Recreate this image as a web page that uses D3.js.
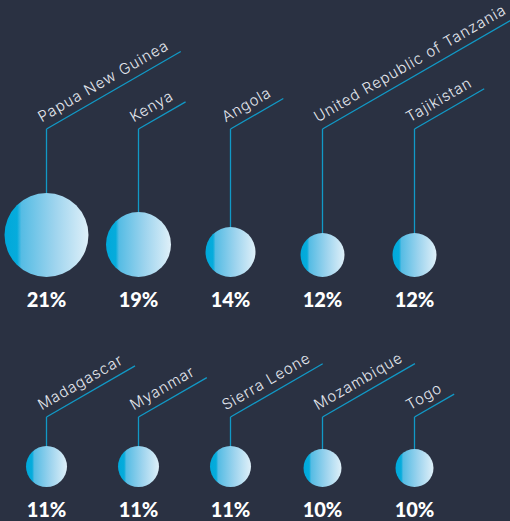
<!DOCTYPE html>
<html>
<head>
<meta charset="utf-8">
<script src="https://cdn.jsdelivr.net/npm/d3@7"></script>
<style>
  html, body { margin: 0; padding: 0; background: #2a3142; }
  svg { display: block; }
</style>
</head>
<body>
<script>
// Share of population by country
const countries = ["Papua New Guinea", "Kenya", "Angola", "United Republic of Tanzania", "Tajikistan",
                   "Madagascar", "Myanmar", "Sierra Leone", "Mozambique", "Togo"];
const shares = [21, 19, 14, 12, 12, 11, 11, 11, 10, 10];
const shareLabels = ["21%", "19%", "14%", "12%", "12%", "11%", "11%", "11%", "10%", "10%"];

const W = 510, H = 521;
const perRow = 5;

const svg = d3.select("body").append("svg")
  .attr("width", W).attr("height", H);

svg.append("rect").attr("width", W).attr("height", H).attr("fill", "#2a3142");

const defs = svg.append("defs");
const grad = defs.append("linearGradient")
  .attr("id", "bubble").attr("x1", "0%").attr("x2", "100%").attr("y1", "0%").attr("y2", "0%");
[[0, "#00a8da"], [0.15, "#06acdc"], [0.2, "#55bce4"], [0.6, "#9ed4ee"], [1, "#dff0f9"]]
  .forEach(([o, c]) => grad.append("stop").attr("offset", o).attr("stop-color", c));

const data = countries.map((c, i) => ({ country: c, value: shares[i], label: shareLabels[i], idx: i }));

// column and row placement
const col = d3.scalePoint().domain(d3.range(perRow)).range([46.5, 414.5]);
const rowBase = d3.scaleLinear().domain([0, 1]).range([277, 487]);     // circle bottom line
const stemTop = d3.scaleLinear().domain([0, 1]).range([129, 417]);     // bend of the leader
const r = d3.scaleLinear().domain([10, 19, 21]).range([19, 32.5, 42]);

const g = svg.selectAll("g.item").data(data).join("g").attr("class", "item")
  .attr("transform", d => `translate(${col(d.idx % perRow)},0)`);

// vertical stem
g.append("line")
  .attr("x1", 0).attr("x2", 0)
  .attr("y1", d => stemTop(Math.floor(d.idx / perRow)))
  .attr("y2", d => rowBase(Math.floor(d.idx / perRow)) - 2 * r(d.value) + 1)
  .attr("stroke", "#1199c6").attr("stroke-width", 1.3);

// rotated label with its underline
const lab = g.append("g")
  .attr("transform", d => `translate(0,${stemTop(Math.floor(d.idx / perRow))}) rotate(-30)`);

lab.append("text")
  .attr("x", -1).attr("y", -8)
  .attr("fill", "#e4e7ee")
  .attr("font-family", "Inter, Lato, sans-serif")
  .attr("font-weight", 300)
  .attr("font-size", 15)
  .attr("letter-spacing", 0.9)
  .text(d => d.country);

lab.append("line")
  .attr("x1", 0).attr("y1", 0).attr("y2", 0)
  .attr("x2", function () {
    const t = d3.select(this.parentNode).select("text").node();
    return t.getComputedTextLength() + 7;
  })
  .attr("stroke", "#1199c6").attr("stroke-width", 1.3);

// bubbles
g.append("circle")
  .attr("cx", 0)
  .attr("cy", d => rowBase(Math.floor(d.idx / perRow)) - r(d.value))
  .attr("r", d => r(d.value))
  .attr("fill", "url(#bubble)");

// value labels
g.append("text")
  .attr("x", 0)
  .attr("y", d => rowBase(Math.floor(d.idx / perRow)) + 29.5)
  .attr("text-anchor", "middle")
  .attr("fill", "#ffffff")
  .attr("font-family", "Lato, 'Noto Sans', sans-serif")
  .attr("font-weight", 900)
  .attr("font-size", 20)
  .text(d => d.label);
</script>
</body>
</html>
